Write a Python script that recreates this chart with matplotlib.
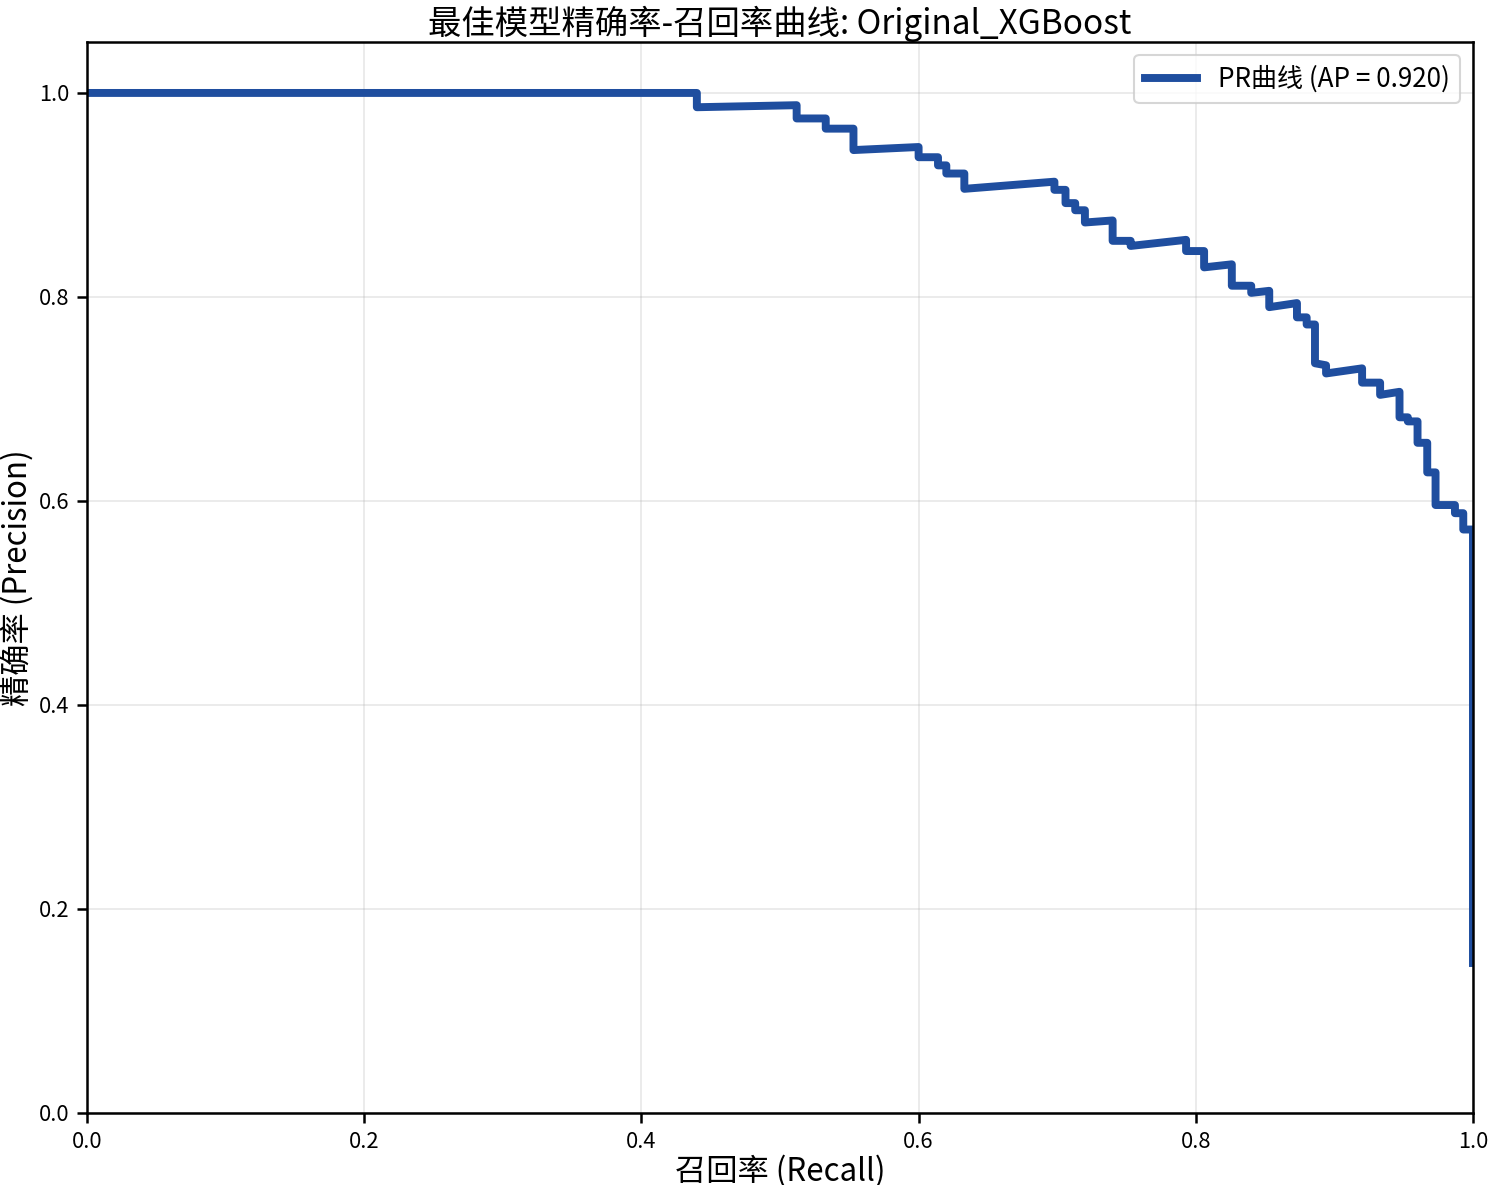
import matplotlib
matplotlib.use("Agg")
import matplotlib.pyplot as plt

plt.rcParams['font.family'] = ['Noto Sans CJK SC', 'DejaVu Sans']
plt.rcParams['axes.unicode_minus'] = False

model_name = "Original_XGBoost"
ap_score = 0.920

# Precision-recall points, ordered by increasing recall
recall = [0.000, 0.440, 0.440, 0.512, 0.512, 0.533, 0.533, 0.553, 0.553,
          0.600, 0.600, 0.614, 0.614, 0.620, 0.620, 0.633, 0.633, 0.698,
          0.698, 0.706, 0.706, 0.713, 0.713, 0.720, 0.720, 0.740, 0.740,
          0.753, 0.753, 0.793, 0.793, 0.806, 0.806, 0.826, 0.826, 0.840,
          0.840, 0.853, 0.853, 0.873, 0.873, 0.880, 0.880, 0.886, 0.886,
          0.894, 0.894, 0.920, 0.920, 0.933, 0.933, 0.947, 0.947, 0.953,
          0.953, 0.960, 0.960, 0.967, 0.967, 0.973, 0.973, 0.987, 0.987,
          0.993, 0.993, 1.000, 1.000]
precision = [1.000, 1.000, 0.986, 0.988, 0.975, 0.975, 0.965, 0.965, 0.944,
             0.947, 0.937, 0.937, 0.929, 0.929, 0.921, 0.921, 0.906, 0.913,
             0.905, 0.905, 0.892, 0.892, 0.885, 0.885, 0.873, 0.875, 0.855,
             0.855, 0.850, 0.856, 0.845, 0.845, 0.829, 0.832, 0.811, 0.811,
             0.804, 0.806, 0.790, 0.794, 0.780, 0.780, 0.773, 0.773, 0.735,
             0.733, 0.725, 0.730, 0.716, 0.716, 0.704, 0.707, 0.682, 0.682,
             0.678, 0.678, 0.657, 0.657, 0.628, 0.628, 0.596, 0.596, 0.588,
             0.588, 0.572, 0.572, 0.147]

x_ticks = [0.0, 0.2, 0.4, 0.6, 0.8, 1.0]
y_ticks = [0.0, 0.2, 0.4, 0.6, 0.8, 1.0]

fig = plt.figure(figsize=(9.92, 7.9), dpi=150)
ax = fig.add_axes([0.0585, 0.0608, 0.9314, 0.9038])

ax.plot(recall, precision, color='#1f4e9f', lw=3.8,
        label=f'PR曲线 (AP = {ap_score:.3f})')

ax.set_xlim(0, 1)
ax.set_ylim(0, 1.05)
ax.set_xticks(x_ticks)
ax.set_yticks(y_ticks)
ax.set_xticklabels([f'{v:.1f}' for v in x_ticks])
ax.set_yticklabels([f'{v:.1f}' for v in y_ticks])
ax.tick_params(axis='both', labelsize=10.5, length=5, width=1.2)
ax.grid(True, alpha=0.3)
for s in ax.spines.values():
    s.set_linewidth(1.2)

ax.set_xlabel('召回率 (Recall)', fontsize=15, labelpad=1)
ax.set_ylabel('精确率 (Precision)', fontsize=15, labelpad=2)
ax.set_title(f'最佳模型精确率-召回率曲线: {model_name}', fontsize=16, pad=2)
ax.legend(loc='upper right', fontsize=12.5, handlelength=2.0)

fig.savefig('out.png', dpi=150)
